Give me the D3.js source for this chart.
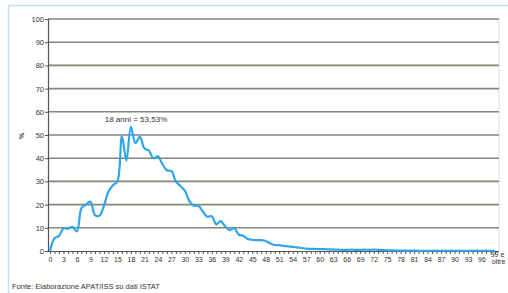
<!DOCTYPE html>
<html>
<head>
<meta charset="utf-8">
<script src="https://cdnjs.cloudflare.com/ajax/libs/d3/7.8.5/d3.min.js"></script>
<style>
  body { margin: 0; background: #fff; }
  text { font-family: "Liberation Sans Narrow", "Liberation Sans", Arial, sans-serif; fill: #333; }
</style>
</head>
<body>
<script>
// eta' (0 .. 99 e oltre) e percentuale
var ages = d3.range(0, 99).map(String).concat(["99 e oltre"]);
var values = [
  0, 5.5, 6.5, 9.8, 9.6, 10.4, 8.4, 18.5, 20, 21.3,
  15.5, 15.2, 19.5, 25.5, 28.3, 30, 49.5, 39, 53.53, 46.5,
  49.3, 44.3, 43.3, 40, 40.8, 37.5, 34.8, 34.5, 30, 28,
  26, 21.5, 19.5, 19.5, 17, 14.8, 15, 11.5, 12.9, 10.5,
  9, 9.8, 7, 6.6, 5.2, 4.8, 4.7, 4.7, 4.3, 3.3,
  2.6, 2.5, 2.2, 2, 1.8, 1.6, 1.3, 1.0, 0.9, 0.9,
  0.8, 0.8, 0.7, 0.6, 0.6, 0.5, 0.5, 0.6, 0.5, 0.5,
  0.6, 0.5, 0.6, 0.5, 0.4, 0.3, 0.3, 0.2, 0.2, 0.2,
  0.2, 0.2, 0.1, 0.1, 0.1, 0.1, 0.1, 0.1, 0.1, 0.1,
  0.1, 0.1, 0.1, 0.1, 0.1, 0.1, 0.1, 0.1, 0.1, 0.1
];
var yTicks = [0, 10, 20, 30, 40, 50, 60, 70, 80, 90, 100];
var peakLabel = "18 anni = 53,53%";
var source = "Fonte: Elaborazione APAT/ISS su dati ISTAT";

var W = 508, H = 293;
var pLeft = 48, pRight = 499, pTop = 19, pBottom = 251;
var fontNarrow = "'Liberation Sans Narrow', 'Liberation Sans', Arial, sans-serif";

var svg = d3.select("body").append("svg")
    .attr("width", W).attr("height", H);

// cornice azzurra
svg.append("rect")
    .attr("x", 8.5).attr("y", 5.5)
    .attr("width", W + 10).attr("height", H + 10)
    .attr("fill", "none").attr("stroke", "#bfe0f7").attr("stroke-width", 1.5);

var x = d3.scalePoint().domain(ages).range([50, 495]);
var y = d3.scaleLinear().domain([0, 100]).range([pBottom, pTop]);

// bordo destro area grafico
svg.append("line")
    .attr("x1", pRight).attr("x2", pRight).attr("y1", pTop).attr("y2", pBottom)
    .attr("stroke", "#d4dde6").attr("stroke-width", 1);

// griglia
svg.selectAll("line.grid")
    .data(yTicks.slice(1))
    .enter().append("line")
    .attr("class", "grid")
    .attr("x1", pLeft).attr("x2", pRight)
    .attr("y1", function(d) { return y(d); })
    .attr("y2", function(d) { return y(d); })
    .attr("stroke", "#85857a").attr("stroke-width", 1.6);

// asse y
var yAxis = svg.append("g")
    .attr("transform", "translate(" + pLeft + ",0)")
    .call(d3.axisLeft(y).tickValues(yTicks).tickSize(3).tickPadding(1));
yAxis.select(".domain").attr("stroke", "#555").attr("stroke-width", 1.2);
yAxis.selectAll(".tick line").attr("stroke", "#555");
yAxis.selectAll("text").style("font-size", "7.5px").attr("fill", "#444")
    .style("font-family", fontNarrow);

// asse x
var xAxis = svg.append("g")
    .attr("transform", "translate(0," + pBottom + ")")
    .call(d3.axisBottom(x).tickSize(3).tickPadding(3)
        .tickFormat(function(d, i) { return i % 3 === 0 ? d : ""; }));
xAxis.select(".domain").attr("d", "M" + pLeft + ",0.5H" + pRight).attr("stroke", "#555").attr("stroke-width", 1.2);
xAxis.selectAll(".tick line").attr("stroke", "#555");
xAxis.selectAll("text").style("font-size", "7px").attr("fill", "#444")
    .style("font-family", fontNarrow);

// ultima etichetta su due righe
xAxis.selectAll(".tick").filter(function(d) { return d === "99 e oltre"; })
    .select("text").text(null)
    .call(function(t) {
        t.append("tspan").attr("x", 2).attr("dy", 0).text("99 e");
        t.append("tspan").attr("x", 3).attr("dy", "1em").text("oltre");
    });

// linea (smussata come in Excel)
var line = d3.line()
    .x(function(d, i) { return x(ages[i]); })
    .y(function(d) { return y(d); })
    .curve(d3.curveCatmullRom.alpha(0.5));
svg.append("path")
    .datum(values)
    .attr("d", line)
    .attr("fill", "none")
    .attr("stroke", "#2ea6e8")
    .attr("stroke-width", 2.2)
    .attr("stroke-linejoin", "round");

// etichetta picco
svg.append("text")
    .attr("x", 136).attr("y", 122)
    .attr("text-anchor", "middle")
    .style("font-size", "8px")
    .text(peakLabel);

// etichetta asse y
svg.append("text")
    .attr("transform", "translate(24,136) rotate(-90)")
    .attr("text-anchor", "middle")
    .style("font-size", "7px")
    .style("font-weight", "bold")
    .text("%");

// fonte
svg.append("text")
    .attr("x", 12).attr("y", 289)
    .style("font-size", "7.5px")
    .text(source);
</script>
</body>
</html>
